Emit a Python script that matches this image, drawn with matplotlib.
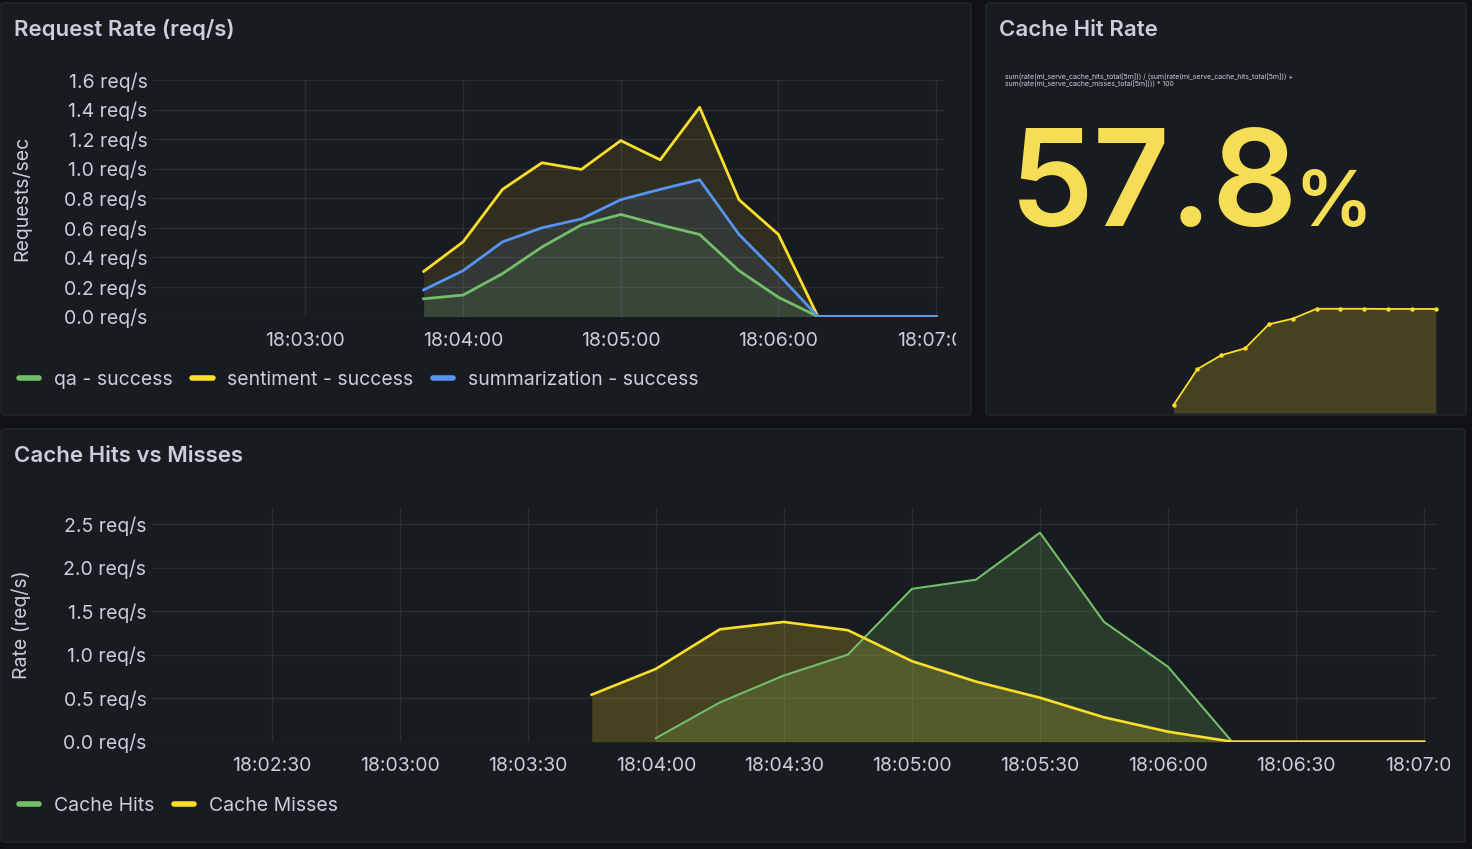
import matplotlib
matplotlib.use("Agg")
import matplotlib.pyplot as plt
from matplotlib.patches import FancyBboxPatch
from matplotlib.transforms import Bbox

plt.rcParams['font.family'] = ['Inter', 'DejaVu Sans']

# ---------------- data ----------------
def tsec(s):
    h, m, x = s.split(":")
    return int(h) * 3600 + int(m) * 60 + int(x) - 18 * 3600

req_times = ["18:03:45", "18:04:00", "18:04:15", "18:04:30", "18:04:45", "18:05:00",
             "18:05:15", "18:05:30", "18:05:45", "18:06:00", "18:06:15", "18:06:30",
             "18:06:45", "18:07:00"]
qa_success = [0.12, 0.145, 0.29, 0.47, 0.62, 0.69, 0.62, 0.555, 0.31, 0.13, 0.0, 0.0, 0.0, 0.0]
sentiment_success = [0.305, 0.505, 0.86, 1.04, 0.995, 1.19, 1.06, 1.415, 0.79, 0.555, 0.0, 0.0, 0.0, 0.0]
summarization_success = [0.18, 0.31, 0.505, 0.60, 0.66, 0.79, 0.86, 0.925, 0.555, 0.285, 0.0, 0.0, 0.0, 0.0]
req_yticks = [0.0, 0.2, 0.4, 0.6, 0.8, 1.0, 1.2, 1.4, 1.6]
req_xticks = ["18:03:00", "18:04:00", "18:05:00", "18:06:00", "18:07:00"]

hit_rate_times = ["18:04:00", "18:04:15", "18:04:30", "18:04:45", "18:05:00", "18:05:15",
                  "18:05:30", "18:05:45", "18:06:00", "18:06:15", "18:06:30", "18:06:45"]
hit_rate = [4.4, 24.4, 32.1, 35.9, 49.3, 52.4, 57.9, 57.9, 57.9, 57.8, 57.8, 57.8]
hit_rate_last = "57.8"

miss_times = ["18:03:45", "18:04:00", "18:04:15", "18:04:30", "18:04:45", "18:05:00",
              "18:05:15", "18:05:30", "18:05:45", "18:06:00", "18:06:15", "18:06:30",
              "18:06:45", "18:07:00"]
cache_misses = [0.54, 0.835, 1.29, 1.375, 1.28, 0.925, 0.69, 0.505, 0.28, 0.115, 0.0, 0.0, 0.0, 0.0]
hit_times = ["18:04:00", "18:04:15", "18:04:30", "18:04:45", "18:05:00", "18:05:15",
             "18:05:30", "18:05:45", "18:06:00", "18:06:15", "18:06:30", "18:06:45", "18:07:00"]
cache_hits = [0.04, 0.45, 0.76, 1.0, 1.755, 1.86, 2.40, 1.375, 0.86, 0.0, 0.0, 0.0, 0.0]
cache_yticks = [0.0, 0.5, 1.0, 1.5, 2.0, 2.5]
cache_xticks = ["18:02:30", "18:03:00", "18:03:30", "18:04:00", "18:04:30", "18:05:00",
                "18:05:30", "18:06:00", "18:06:30", "18:07:00"]

query_text = ("sum(rate(ml_serve_cache_hits_total[5m])) / (sum(rate(ml_serve_cache_hits_total[5m])) +\n"
              "sum(rate(ml_serve_cache_misses_total[5m]))) * 100")

# ---------------- style ----------------
W, H = 1472, 849
BG = "#111217"
PANEL = "#181b1f"
BORDER = "#26282e"
TEXT = "#ccccdc"
GRID = "#2b2d32"
GREEN = "#73bf69"
YELLOW = "#fade2a"
BLUE = "#5794f2"
BIGYELLOW = "#f5de55"
TICK_FS = 14

fig = plt.figure(figsize=(W / 100, H / 100), dpi=100, facecolor=BG)


def fx(x):
    return x / W


def fy(y):
    return 1 - y / H


def panel(x0, y0, x1, y1):
    p = FancyBboxPatch((fx(x0), fy(y1)), (x1 - x0) / W, (y1 - y0) / H,
                       boxstyle="round,pad=0,rounding_size=0.003",
                       transform=fig.transFigure, facecolor=PANEL,
                       edgecolor=BORDER, linewidth=1.0, zorder=-10)
    fig.patches.append(p)


def axes_px(l, t, r, b):
    return fig.add_axes([fx(l), fy(b), (r - l) / W, (b - t) / H])


panel(1, 3, 971, 415)
panel(986, 3, 1466, 415)
panel(1, 429, 1465, 842)

title_kw = dict(color=TEXT, fontsize=16, fontweight="semibold", va="center", ha="left")
fig.text(fx(14), fy(30), "Request Rate (req/s)", **title_kw)
fig.text(fx(999), fy(30), "Cache Hit Rate", **title_kw)
fig.text(fx(14), fy(456), "Cache Hits vs Misses", **title_kw)


def style_ax(ax):
    ax.set_facecolor("none")
    for s in ax.spines.values():
        s.set_visible(False)
    ax.tick_params(axis="both", length=0, colors=TEXT, labelsize=TICK_FS)
    ax.grid(True, color=GRID, linewidth=1.0)
    ax.set_axisbelow(True)


def style_legend(leg):
    for t in leg.get_texts():
        t.set_color(TEXT)
    for h in leg.get_lines():
        h.set_linewidth(4)
        h.set_solid_capstyle("round")


# ---------------- Request Rate ----------------
ax1 = axes_px(153, 80, 944, 316.5)
style_ax(ax1)
rt = [tsec(t) for t in req_times]
series1 = [(qa_success, GREEN, "qa - success"),
           (sentiment_success, YELLOW, "sentiment - success"),
           (summarization_success, BLUE, "summarization - success")]
for vals, col, lab in series1:
    ax1.fill_between(rt, vals, 0, color=col, alpha=0.10, linewidth=0, zorder=2)
for vals, col, lab in series1:
    ax1.plot(rt, vals, color=col, linewidth=2.0, label=lab, zorder=3)
ax1.set_xlim(122, 423)
ax1.set_ylim(0, 1.6)
ax1.set_yticks(req_yticks)
ax1.set_yticklabels([f"{v:.1f} req/s" for v in req_yticks])
ax1.set_xticks([tsec(t) for t in req_xticks])
ax1.set_xticklabels(req_xticks)
ax1.tick_params(axis="y", pad=4)
ax1.tick_params(axis="x", pad=11)
ax1.set_ylabel("Requests/sec", color=TEXT, fontsize=TICK_FS)
ax1.yaxis.set_label_coords((31 - 153) / (944 - 153), 0.5)
clip1 = Bbox.from_extents(0, 0, 956, H)
for lab in ax1.get_xticklabels():
    lab.set_clip_on(True)
    lab.set_clip_box(clip1)
leg1 = ax1.legend(loc="center left", bbox_to_anchor=(fx(19), fy(380)),
                  bbox_transform=fig.transFigure, ncol=3, frameon=False,
                  fontsize=TICK_FS, handlelength=1.05, handletextpad=0.75,
                  columnspacing=1.0, borderaxespad=0, borderpad=0)
style_legend(leg1)

# ---------------- Cache Hit Rate (stat) ----------------
fig.text(fx(1005), fy(80), query_text, color=TEXT, fontsize=5.0, ha="left",
         va="center", linespacing=1.1)
fig.text(fx(1010), fy(226), hit_rate_last, color=BIGYELLOW, fontsize=96,
         fontweight="semibold", ha="left", va="baseline")
fig.text(fx(1294), fy(226), "%", color=BIGYELLOW, fontsize=56,
         fontweight="semibold", ha="left", va="baseline")

ax2 = axes_px(986, 300, 1466, 413)
ax2.set_facecolor("none")
ax2.axis("off")
ht = [tsec(t) for t in hit_rate_times]
ax2.fill_between(ht, hit_rate, 0, color=YELLOW, alpha=0.2, linewidth=0)
ax2.plot(ht, hit_rate, color=YELLOW, linewidth=1.3, marker="o", markersize=2.2)
ax2.set_xlim(122, 424)
ax2.set_ylim(0, (413 - 300) / 1.8)

# ---------------- Cache Hits vs Misses ----------------
ax3 = axes_px(152, 508, 1437, 741.7)
style_ax(ax3)
mt = [tsec(t) for t in miss_times]
hts = [tsec(t) for t in hit_times]
ax3.fill_between(hts, cache_hits, 0, color=GREEN, alpha=0.2, linewidth=0, zorder=2)
ax3.fill_between(mt, cache_misses, 0, color=YELLOW, alpha=0.2, linewidth=0, zorder=2)
ax3.plot(hts, cache_hits, color=GREEN, linewidth=1.5, label="Cache Hits", zorder=3)
ax3.plot(mt, cache_misses, color=YELLOW, linewidth=1.9, label="Cache Misses", zorder=3)
ax3.set_xlim(122, 423)
ax3.set_ylim(0, (741.7 - 508) / 87.1)
ax3.set_yticks(cache_yticks)
ax3.set_yticklabels([f"{v:.1f} req/s" for v in cache_yticks])
ax3.set_xticks([tsec(t) for t in cache_xticks])
ax3.set_xticklabels(cache_xticks)
ax3.tick_params(axis="y", pad=4)
ax3.tick_params(axis="x", pad=11)
ax3.set_ylabel("Rate (req/s)", color=TEXT, fontsize=TICK_FS)
ax3.yaxis.set_label_coords((31 - 152) / (1437 - 152), 0.5)
clip3 = Bbox.from_extents(0, 0, 1450, H)
for lab in ax3.get_xticklabels():
    lab.set_clip_on(True)
    lab.set_clip_box(clip3)
leg3 = ax3.legend(loc="center left", bbox_to_anchor=(fx(19), fy(806)),
                  bbox_transform=fig.transFigure, ncol=2, frameon=False,
                  fontsize=TICK_FS, handlelength=1.05, handletextpad=0.75,
                  columnspacing=1.0, borderaxespad=0, borderpad=0)
style_legend(leg3)

fig.savefig("out.png", dpi=100, facecolor=BG)
